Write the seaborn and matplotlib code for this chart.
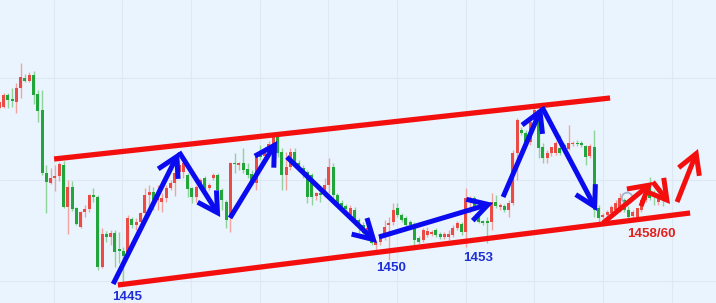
import numpy as np
import pandas as pd
import matplotlib
matplotlib.use("Agg")
import matplotlib.pyplot as plt
import seaborn as sns

# ---------------- data ----------------
open_ = [1462.7, 1462.8, 1464.0, 1463.5, 1463.3, 1464.7, 1465.7, 1465.4, 1466.0, 1464.1,
         1462.5, 1456.2, 1455.2, 1455.7, 1455.9, 1457.0, 1452.8, 1454.8, 1452.7, 1450.8,
         1452.3, 1452.6, 1454.0, 1453.8, 1446.8, 1450.1, 1449.8, 1450.2, 1448.6, 1448.4,
         1448.2, 1451.6, 1451.0, 1451.3, 1452.2, 1454.0, 1454.3, 1453.5, 1453.3, 1453.7,
         1454.7, 1455.2, 1456.3, 1456.3, 1456.0, 1454.7, 1453.8, 1454.8, 1455.7, 1454.7,
         1455.7, 1456.0, 1454.5, 1453.3, 1451.8, 1457.2, 1457.0, 1457.2, 1456.6, 1456.1,
         1455.2, 1457.9, 1457.9, 1458.3, 1459.1, 1459.8, 1458.3, 1456.0, 1456.8, 1458.3,
         1457.2, 1456.7, 1456.3, 1456.0, 1453.9, 1454.2, 1454.2, 1455.0, 1456.8, 1454.0,
         1453.2, 1452.9, 1452.0, 1452.5, 1451.5, 1451.0, 1449.8, 1449.8, 1449.0, 1449.3,
         1450.0, 1451.0, 1451.3, 1452.7, 1452.0, 1451.7, 1451.3, 1450.8, 1449.7, 1449.5,
         1450.0, 1450.1, 1450.5, 1450.1, 1449.8, 1449.8, 1450.0, 1450.7, 1451.1, 1450.3,
         1453.5, 1453.7, 1452.2, 1451.3, 1451.3, 1451.3, 1453.3, 1452.8, 1452.9, 1452.5,
         1453.2, 1458.2, 1460.5, 1460.2, 1459.3, 1461.5, 1462.5, 1458.8, 1457.7, 1458.2,
         1458.2, 1458.7, 1459.0, 1458.6, 1459.1, 1459.2, 1459.2, 1458.9, 1457.9, 1458.8,
         1452.7, 1451.8, 1452.0, 1452.2, 1452.5, 1452.5, 1453.5, 1452.5, 1451.9, 1451.8,
         1452.5, 1453.5, 1454.7, 1454.2, 1453.3, 1453.7]
high = [1463.5, 1464.2, 1464.2, 1464.7, 1465.2, 1467.2, 1466.1, 1466.3, 1466.4, 1464.5,
        1464.5, 1457.0, 1456.7, 1457.0, 1457.3, 1457.4, 1455.5, 1455.4, 1452.8, 1452.4,
        1453.0, 1454.1, 1454.7, 1454.0, 1450.7, 1450.4, 1450.5, 1450.5, 1450.3, 1448.8,
        1452.0, 1451.8, 1451.7, 1452.3, 1454.7, 1455.0, 1454.8, 1455.0, 1454.2, 1455.0,
        1455.5, 1456.7, 1457.5, 1457.5, 1456.2, 1454.8, 1455.0, 1455.7, 1455.9, 1455.2,
        1456.2, 1456.2, 1454.7, 1453.5, 1457.3, 1458.2, 1457.3, 1458.7, 1457.2, 1456.5,
        1458.2, 1459.0, 1458.8, 1459.4, 1460.2, 1460.2, 1458.7, 1458.3, 1458.7, 1458.7,
        1457.5, 1457.0, 1456.5, 1456.2, 1454.3, 1454.8, 1455.7, 1457.7, 1457.2, 1454.2,
        1453.5, 1453.1, 1453.0, 1452.8, 1451.7, 1451.3, 1450.9, 1450.0, 1449.5, 1450.2,
        1451.5, 1451.8, 1453.2, 1453.2, 1452.2, 1451.9, 1451.5, 1451.3, 1449.9, 1450.7,
        1450.8, 1450.5, 1450.7, 1450.3, 1450.3, 1450.5, 1451.0, 1451.4, 1451.3, 1454.7,
        1453.9, 1453.9, 1452.3, 1451.5, 1451.8, 1454.2, 1454.0, 1453.2, 1453.1, 1453.5,
        1458.5, 1461.7, 1460.8, 1460.5, 1461.5, 1462.7, 1462.7, 1459.2, 1458.5, 1458.8,
        1459.4, 1460.0, 1459.2, 1461.0, 1459.4, 1459.5, 1459.4, 1459.0, 1459.1, 1460.5,
        1453.0, 1452.2, 1452.5, 1453.0, 1453.5, 1454.2, 1453.7, 1452.9, 1452.5, 1452.7,
        1453.7, 1454.5, 1455.8, 1454.5, 1454.0, 1453.9]
low = [1462.5, 1462.7, 1462.7, 1462.8, 1462.2, 1463.7, 1465.3, 1465.3, 1463.1, 1461.3,
       1456.0, 1452.2, 1455.1, 1454.4, 1455.4, 1452.7, 1450.1, 1452.4, 1451.0, 1450.7,
       1451.8, 1452.3, 1453.3, 1446.5, 1446.7, 1449.3, 1449.0, 1446.8, 1447.2, 1445.0,
       1447.9, 1450.7, 1450.5, 1451.0, 1451.8, 1452.8, 1452.5, 1452.5, 1452.3, 1453.3,
       1454.5, 1453.9, 1456.2, 1455.7, 1453.8, 1453.2, 1453.3, 1454.5, 1454.2, 1454.5,
       1455.5, 1453.8, 1452.5, 1450.7, 1450.3, 1456.2, 1456.5, 1456.2, 1455.7, 1455.0,
       1454.5, 1457.5, 1457.7, 1458.0, 1459.0, 1457.8, 1454.5, 1454.5, 1456.5, 1456.8,
       1456.3, 1455.7, 1453.2, 1453.0, 1453.5, 1453.3, 1453.8, 1454.2, 1453.3, 1453.0,
       1452.5, 1452.3, 1451.7, 1451.0, 1450.2, 1450.0, 1449.5, 1449.0, 1448.5, 1449.0,
       1449.5, 1447.5, 1451.0, 1451.8, 1451.3, 1450.8, 1450.7, 1448.8, 1449.1, 1449.3,
       1449.8, 1449.9, 1449.8, 1449.6, 1449.6, 1449.5, 1449.8, 1450.5, 1450.0, 1448.8,
       1452.2, 1452.5, 1451.2, 1451.0, 1449.2, 1450.5, 1452.7, 1452.5, 1452.3, 1451.8,
       1453.0, 1455.5, 1460.0, 1459.0, 1459.0, 1461.2, 1457.7, 1457.2, 1457.2, 1457.9,
       1458.0, 1458.0, 1458.3, 1458.5, 1458.9, 1458.9, 1458.8, 1457.0, 1457.7, 1451.8,
       1451.3, 1451.6, 1451.7, 1452.0, 1452.3, 1452.3, 1452.3, 1451.7, 1451.7, 1451.6,
       1452.3, 1453.3, 1453.5, 1453.0, 1453.0, 1452.9]
close = [1463.3, 1464.0, 1463.5, 1463.4, 1464.7, 1465.8, 1465.4, 1466.0, 1464.0, 1462.4,
         1456.2, 1455.3, 1455.7, 1455.9, 1457.1, 1452.8, 1454.8, 1452.6, 1451.1, 1452.3,
         1452.6, 1454.0, 1453.8, 1446.8, 1450.1, 1449.8, 1450.2, 1448.3, 1448.4, 1447.9,
         1451.7, 1451.0, 1451.3, 1452.2, 1454.0, 1454.3, 1453.5, 1453.9, 1453.7, 1454.7,
         1455.2, 1456.2, 1457.0, 1457.2, 1454.6, 1453.8, 1454.8, 1455.5, 1454.5, 1455.0,
         1456.0, 1454.5, 1453.5, 1451.5, 1457.2, 1457.1, 1457.2, 1456.5, 1456.0, 1455.2,
         1457.8, 1457.8, 1458.3, 1459.1, 1459.9, 1458.2, 1456.0, 1456.8, 1458.3, 1457.0,
         1456.5, 1456.0, 1453.8, 1453.8, 1454.2, 1454.0, 1455.0, 1456.8, 1454.0, 1453.2,
         1452.7, 1452.6, 1452.7, 1451.2, 1450.8, 1450.2, 1450.7, 1449.2, 1449.3, 1450.0,
         1450.8, 1451.2, 1452.5, 1452.0, 1451.5, 1451.0, 1451.0, 1449.5, 1449.3, 1450.5,
         1450.4, 1450.3, 1450.0, 1449.8, 1450.1, 1450.1, 1450.7, 1451.2, 1450.3, 1453.7,
         1453.7, 1452.8, 1451.3, 1451.2, 1451.2, 1453.3, 1452.9, 1453.0, 1452.5, 1453.2,
         1458.2, 1461.5, 1460.2, 1459.3, 1461.3, 1462.5, 1458.7, 1457.7, 1458.2, 1458.8,
         1459.2, 1458.2, 1458.5, 1459.2, 1459.2, 1459.1, 1459.0, 1457.8, 1458.9, 1452.5,
         1451.7, 1452.0, 1452.3, 1452.8, 1453.2, 1453.7, 1452.5, 1451.8, 1452.3, 1452.7,
         1453.5, 1454.3, 1453.7, 1453.8, 1453.7, 1453.5]

# channel lines: (bar index, price) end points
upper_channel = [(12.8, 1457.6), (142.7, 1463.7)]
lower_channel = [(27.7, 1445.0), (161.4, 1452.2)]

# wave arrows: start -> end (bar index, price)
blue_waves = [((26.6, 1445.1), (42.0, 1458.3)),
              ((42.0, 1458.3), (51.6, 1451.8)),
              ((53.9, 1451.7), (64.9, 1459.4)),
              ((67.2, 1457.8), (88.25, 1449.2)),
              ((88.7, 1449.8), (115.35, 1453.2)),
              ((117.7, 1453.8), (126.8, 1462.8)),
              ((126.8, 1462.8), (139.65, 1452.4))]
red_waves = [((141.05, 1451.2), (152.7, 1455.3)),
             ((152.7, 1455.3), (156.7, 1453.1)),
             ((158.35, 1453.3), (163.25, 1458.6))]

level_labels = ["1445", "1450", "1453", "1458/60"]
level_pos = [(29.8, 1443.8), (91.5, 1446.7), (111.8, 1447.7), (152.3, 1450.1)]
level_colors = ["#1f2fd8", "#1f2fd8", "#1f2fd8", "#e3201b"]

# ---------------- style ----------------
sns.set_theme(style="white")
plt.rcParams['font.family'] = ['Liberation Sans', 'DejaVu Sans']

BG = "#eaf4fe"
UP_BODY, UP_WICK = "#ea4c45", "#f2a3a0"
DN_BODY, DN_WICK = "#22a63c", "#8fd39b"

df = pd.DataFrame({"open": open_, "high": high, "low": low, "close": close})
df["i"] = np.arange(len(df))
df["up"] = df["close"] >= df["open"]

fig = plt.figure(figsize=(7.16, 3.03), dpi=100)
fig.patch.set_facecolor(BG)
ax = fig.add_axes([0, 0, 1, 1])
ax.set_facecolor(BG)

# grid
for gx in [12.8, 28.7, 44.8, 60.9, 76.8, 92.9, 109.0, 124.9, 141.1, 157.2]:
    ax.axvline(gx, color="#dde8f3", lw=0.8, zorder=0)
for gy in [1445.4, 1455.5, 1465.7]:
    ax.axhline(gy, color="#dde8f3", lw=0.8, zorder=0)

# candles
wick_cols = np.where(df["up"], UP_WICK, DN_WICK)
body_cols = np.where(df["up"], UP_BODY, DN_BODY)
ax.vlines(df["i"], df["low"], df["high"], colors=wick_cols, lw=1.0, zorder=2)
bottom = np.minimum(df["open"], df["close"])
height = np.maximum(np.abs(df["close"] - df["open"]), 0.15)
ax.bar(df["i"], height, bottom=bottom, width=0.7, color=body_cols, linewidth=0, zorder=3)

# faint marker circle near the last swing
ax.scatter([146.7], [1453.7], s=60, facecolors="none", edgecolors="#9fb0cc",
           linewidths=1.2, zorder=4)

# channel lines (seaborn)
for seg in (upper_channel, lower_channel):
    seg_df = pd.DataFrame(seg, columns=["x", "y"])
    sns.lineplot(data=seg_df, x="x", y="y", ax=ax, color="#f40f0f", lw=3.8,
                 solid_capstyle="butt", zorder=5, legend=False)

# arrows
def draw_arrow(p0, p1, color):
    ax.annotate("", xy=p1, xytext=p0,
                arrowprops=dict(arrowstyle="->,head_length=0.7,head_width=0.4",
                                color=color, lw=3.6, mutation_scale=20,
                                shrinkA=0, shrinkB=0, capstyle="butt",
                                joinstyle="miter"),
                zorder=6)

for p0, p1 in blue_waves:
    draw_arrow(p0, p1, "#0b0bf0")
for p0, p1 in red_waves:
    draw_arrow(p0, p1, "#f40f0f")

for lab, (lx, ly), col in zip(level_labels, level_pos, level_colors):
    ax.text(lx, ly, lab, color=col, fontsize=9.6, fontweight="bold",
            ha="center", va="center", zorder=7)

ax.set_xlim(0.16, 167.45)
ax.set_ylim(1443.2, 1473.5)
ax.set_xlabel("")
ax.set_ylabel("")
ax.set_xticks([])
ax.set_yticks([])
for s in ax.spines.values():
    s.set_visible(False)

fig.savefig("out.png", dpi=100, facecolor=BG)
